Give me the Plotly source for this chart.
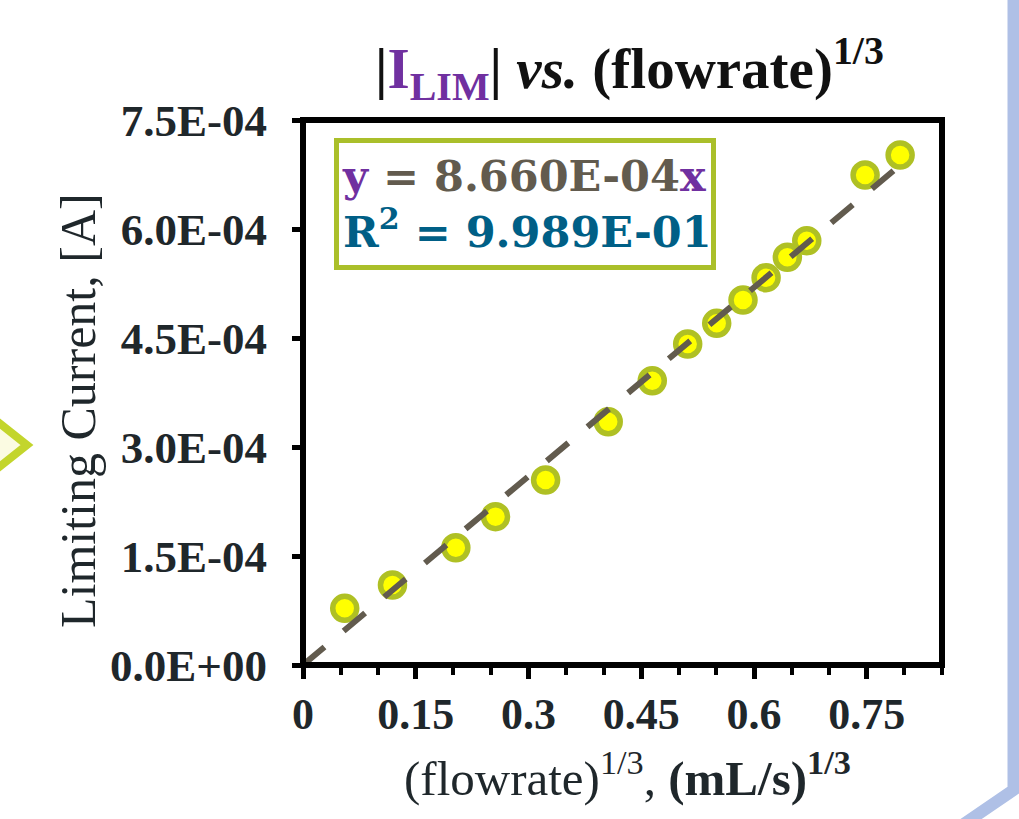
import plotly.graph_objects as go

# ---- data ----
flow_13 = [0.0555, 0.119, 0.2033, 0.2561, 0.3227, 0.406, 0.4646, 0.5117,
           0.5503, 0.5853, 0.616, 0.6443, 0.6701, 0.7477, 0.7943]
i_lim = [7.80e-5, 1.101e-4, 1.614e-4, 2.041e-4, 2.546e-4, 3.348e-4, 3.912e-4,
         4.417e-4, 4.702e-4, 5.023e-4, 5.330e-4, 5.611e-4, 5.839e-4, 6.743e-4, 7.018e-4]
slope = 8.660e-4
r2 = 0.9989
trend_x = [0.0, 0.80]
trend_y = [slope * v for v in trend_x]

x_tickvals = [0, 0.15, 0.3, 0.45, 0.6, 0.75]
x_ticktext = ["0", "0.15", "0.3", "0.45", "0.6", "0.75"]
y_tickvals = [0, 1.5e-4, 3.0e-4, 4.5e-4, 6.0e-4, 7.5e-4]
y_ticktext = ["0.0E+00", "1.5E-04", "3.0E-04", "4.5E-04", "6.0E-04", "7.5E-04"]

# ---- layout geometry (pixels) ----
W, H = 1019, 819
L, R, T, B = 303, 942, 120, 665


def px(xp):
    return (xp - L) / (R - L)


def py(yp):
    return (B - yp) / (B - T)


SERIF = "Liberation Serif"
TXT = "#1f272b"

fig = go.Figure()
fig.add_trace(go.Scatter(
    x=flow_13, y=i_lim, mode="markers",
    marker=dict(size=24, color="#FFFF00", line=dict(color="#AFC024", width=5.5)),
    showlegend=False, hoverinfo="x+y"))
fig.add_trace(go.Scatter(
    x=trend_x, y=trend_y, mode="lines",
    line=dict(color="#625B4E", width=6, dash="28px,25px"),
    showlegend=False, hoverinfo="skip"))

fig.update_layout(
    width=W, height=H,
    margin=dict(l=L, r=W - R, t=T, b=H - B, pad=0),
    paper_bgcolor="white", plot_bgcolor="white",
    xaxis=dict(range=[0, 0.85], showgrid=False, zeroline=False, showline=False,
               tickmode="array", tickvals=x_tickvals, ticktext=x_ticktext,
               ticks="outside", ticklen=13, tickwidth=5, tickcolor="black",
               ticklabelstandoff=-3,
               tickfont=dict(family=SERIF, size=44, color=TXT, weight="bold"),
               minor=dict(dtick=0.05, tick0=0, ticks="outside", ticklen=9,
                          tickwidth=4, tickcolor="black", showgrid=False)),
    yaxis=dict(range=[0, 7.5e-4], showgrid=False, zeroline=False, showline=False,
               tickmode="array", tickvals=y_tickvals, ticktext=y_ticktext,
               ticks="outside", ticklen=10, tickwidth=5, tickcolor="black",
               ticklabelstandoff=16,
               tickfont=dict(family=SERIF, size=45, color=TXT, weight="bold")),
)

shapes = []
# plot frame
shapes.append(dict(type="rect", xref="paper", yref="paper", x0=0, x1=1, y0=0, y1=1,
                   line=dict(color="black", width=6), layer="above"))
# decorative periwinkle band on the right
shapes.append(dict(type="path", xref="paper", yref="paper",
                   path=f"M {px(1013.5)} {py(-10)} L {px(1013.5)} {py(790)} L {px(955)} {py(830)}",
                   line=dict(color="#AFC0E6", width=12), fillcolor="rgba(0,0,0,0)"))
# decorative chevron on the left
shapes.append(dict(type="path", xref="paper", yref="paper",
                   path=f"M {px(-12)} {py(414)} L {px(27)} {py(445)} L {px(-12)} {py(476)} Z",
                   line=dict(color="#C3D52C", width=8), fillcolor="#FBFBE2"))
fig.update_layout(shapes=shapes)

annotations = [
    dict(text="<b>|<span style='color:#7030A0'>I<sub>LIM</sub></span>| <i>vs.</i> (flowrate)<sup>1/3</sup></b>",
         xref="paper", yref="paper", x=px(629), y=py(68), xanchor="center", yanchor="middle",
         showarrow=False, font=dict(family=SERIF, size=57, color="#111111")),
    dict(text="Limiting Current, [A]", textangle=-90,
         xref="paper", yref="paper", x=px(78), y=py(411), xanchor="center", yanchor="middle",
         showarrow=False, font=dict(family=SERIF, size=50, color=TXT)),
    dict(text="(flowrate)<sup>1/3</sup>, <b>(mL/s)<sup>1/3</sup></b>",
         xref="paper", yref="paper", x=px(627), y=py(774), xanchor="center", yanchor="middle",
         showarrow=False, font=dict(family=SERIF, size=49, color=TXT)),
    dict(text=("<b><span style='color:#7030A0'>y</span> = 8.660E-04<span style='color:#7030A0'>x</span><br>"
               f"<span style='color:#005F86'>R<sup>2</sup> = {r2:.3E}</span></b>"),
         xref="paper", yref="paper", x=px(334), y=py(138), xanchor="left", yanchor="top",
         align="left", showarrow=False, width=366, height=116,
         bordercolor="#AABF2A", borderwidth=5, borderpad=3, bgcolor="white",
         font=dict(family="DejaVu Serif", size=43, color="#625B4E")),
]
fig.update_layout(annotations=annotations)

fig.write_html("out.html")
